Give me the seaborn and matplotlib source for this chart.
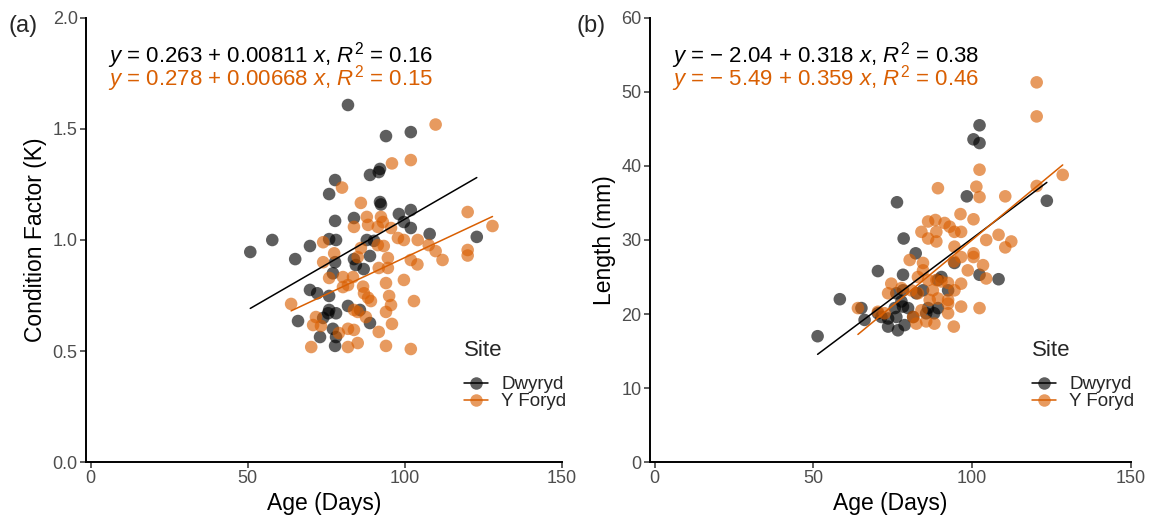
import numpy as np
import pandas as pd
import matplotlib
matplotlib.use("Agg")
import matplotlib.pyplot as plt
import seaborn as sns
from matplotlib.lines import Line2D

# ---------------- data ----------------
sites = ["Dwyryd", "Y Foryd"]

a_dw_age = [81.9, 94.0, 101.9, 92.1, 88.9, 91.7, 77.8, 75.9, 92.1, 92.4, 77.8, 83.8, 98.1, 101.9, 99.7,
            101.9, 107.9, 122.9, 50.8, 57.8, 69.8, 65.1, 75.9, 78.1, 87.9, 90.2, 83.8, 88.9, 77.8, 84.4,
            86.9, 77.1, 69.8, 72.1, 75.9, 75.9, 75.6, 78.1, 81.9, 85.7, 88.9, 74.0, 66.0, 77.1, 78.1,
            73.0, 77.8]
a_dw_k = [1.608, 1.468, 1.486, 1.32, 1.293, 1.306, 1.27, 1.207, 1.171, 1.16, 1.086, 1.099, 1.117, 1.135,
          1.081, 1.054, 1.027, 1.014, 0.946, 1.0, 0.973, 0.914, 1.004, 1.0, 1.0, 0.996, 0.914, 0.928,
          0.90, 0.887, 0.869, 0.85, 0.775, 0.76, 0.748, 0.685, 0.67, 0.67, 0.703, 0.685, 0.626, 0.649,
          0.635, 0.60, 0.563, 0.563, 0.523]

a_yf_age = [109.8, 95.9, 101.9, 80.0, 86.0, 83.8, 87.9, 92.4, 93.0, 88.3, 91.4, 95.6, 120.0, 127.9,
            104.1, 99.7, 97.8, 107.6, 109.8, 112.0, 120.0, 120.0, 74.0, 77.5, 74.0, 86.0, 91.4, 93.3,
            94.6, 85.0, 101.9, 104.0, 91.7, 94.6, 80.3, 83.5, 75.9, 99.7, 81.9, 80.3, 86.7, 87.0, 88.3,
            94.0, 95.0, 95.6, 102.9, 89.2, 83.8, 85.0, 94.0, 63.8, 71.7, 70.8, 73.3, 81.9, 87.6, 95.9,
            91.7, 83.8, 79.0, 70.2, 81.9, 85.0, 94.0, 101.9]
a_yf_k = [1.52, 1.345, 1.36, 1.236, 1.167, 1.059, 1.104, 1.104, 1.081, 1.068, 1.059, 1.054, 1.126, 1.063,
          1.0, 1.0, 1.009, 0.977, 0.95, 0.91, 0.955, 0.93, 0.99, 0.94, 0.90, 0.964, 0.977, 0.973,
          0.919, 0.923, 0.91, 0.89, 0.874, 0.874, 0.833, 0.833, 0.829, 0.82, 0.797, 0.788, 0.79, 0.76,
          0.74, 0.806, 0.748, 0.707, 0.725, 0.725, 0.685, 0.676, 0.676, 0.712, 0.653, 0.617, 0.613,
          0.60, 0.653, 0.622, 0.586, 0.595, 0.581, 0.518, 0.518, 0.536, 0.523, 0.509]

b_dw_age = [102.3, 100.4, 102.3, 98.3, 76.3, 123.5, 78.4, 82.2, 94.4, 70.3, 78.2, 102.3, 108.3, 90.3,
            89.2, 92.4, 58.3, 76.1, 78.2, 82.4, 84.5, 77.7, 78.2, 75.6, 79.8, 65.1, 66.1, 70.3, 71.4,
            73.5, 76.1, 86.1, 89.2, 85.5, 88.0, 73.5, 76.6, 78.7, 81.4, 51.3]
b_dw_len = [45.5, 43.6, 43.1, 35.9, 35.1, 35.3, 30.2, 28.2, 26.9, 25.8, 25.3, 25.3, 24.7, 25.0, 24.6,
            23.2, 22.0, 22.8, 23.2, 22.8, 23.2, 21.7, 21.0, 20.8, 20.8, 20.8, 19.2, 20.1, 19.6, 19.4,
            19.6, 20.8, 20.8, 20.1, 20.1, 18.3, 17.8, 18.5, 19.6, 17.0]

b_yf_age = [120.3, 120.3, 102.3, 128.5, 120.3, 89.2, 101.3, 102.3, 110.4, 96.3, 100.4, 86.1, 88.4, 91.3,
            92.9, 94.4, 96.5, 84.0, 86.1, 88.7, 88.7, 108.3, 112.3, 110.4, 104.4, 94.4, 100.4, 100.4,
            96.5, 103.4, 104.4, 98.6, 94.2, 80.3, 84.5, 84.5, 82.9, 86.1, 88.7, 90.3, 92.4, 87.6, 80.8,
            77.7, 96.5, 94.4, 74.5, 73.5, 82.9, 89.2, 86.6, 92.4, 92.4, 96.5, 102.3, 92.4, 64.0, 70.3,
            72.4, 82.4, 85.5, 88.1, 94.2, 84.0, 81.4]
b_yf_len = [51.3, 46.7, 39.5, 38.8, 37.3, 37.0, 37.2, 35.8, 35.9, 33.5, 32.8, 32.5, 32.7, 32.3, 31.8,
            31.1, 31.1, 31.1, 30.2, 31.1, 29.8, 30.7, 29.8, 29.0, 30.0, 29.1, 28.2, 27.7, 27.7, 26.6,
            24.8, 25.9, 27.1, 27.3, 26.9, 25.9, 25.0, 24.6, 24.6, 24.4, 24.2, 23.2, 23.2, 23.5, 24.1,
            23.2, 24.1, 22.8, 22.8, 22.1, 21.9, 21.9, 21.4, 21.0, 20.8, 20.1, 20.8, 20.3, 20.1, 18.7,
            19.0, 18.7, 18.3, 20.5, 19.6]

eq_a = [r"$y$ = 0.263 + 0.00811 $x$, $R^2$ = 0.16",
        r"$y$ = 0.278 + 0.00668 $x$, $R^2$ = 0.15"]
eq_b = [r"$y$ = − 2.04 + 0.318 $x$, $R^2$ = 0.38",
        r"$y$ = − 5.49 + 0.359 $x$, $R^2$ = 0.46"]

x_ticks = [0, 50, 100, 150]
a_yticks = [0.0, 0.5, 1.0, 1.5, 2.0]
b_yticks = [0, 10, 20, 30, 40, 50, 60]

# ---------------- style ----------------
sns.set_theme(style="white")
plt.rcParams["font.family"] = ["Liberation Sans", "DejaVu Sans"]
plt.rcParams["mathtext.fontset"] = "custom"
plt.rcParams["mathtext.rm"] = "Liberation Sans"
plt.rcParams["mathtext.it"] = "Liberation Sans:italic"
plt.rcParams["mathtext.bf"] = "Liberation Sans:bold"

colors = {"Dwyryd": "#000000", "Y Foryd": "#D95F02"}
line_colors = {"Dwyryd": "#000000", "Y Foryd": "#D95F02"}
pt_alpha = 0.63

df_a = pd.DataFrame({
    "Age": a_dw_age + a_yf_age,
    "K": a_dw_k + a_yf_k,
    "Site": ["Dwyryd"] * len(a_dw_age) + ["Y Foryd"] * len(a_yf_age),
})
df_b = pd.DataFrame({
    "Age": b_dw_age + b_yf_age,
    "Length": b_dw_len + b_yf_len,
    "Site": ["Dwyryd"] * len(b_dw_age) + ["Y Foryd"] * len(b_yf_age),
})

fig = plt.figure(figsize=(11.51, 5.21), dpi=100)
ax1 = fig.add_axes([0.0747, 0.1132, 0.4135, 0.8523])
ax2 = fig.add_axes([0.5647, 0.1132, 0.4179, 0.8523])


def draw(ax, df, ycol, ylabel, ylim, yticks, ytick_labels, eqs, eq_y):
    sns.scatterplot(data=df, x="Age", y=ycol, hue="Site", hue_order=sites,
                    palette=colors, alpha=pt_alpha, s=82, edgecolor="none",
                    legend=False, ax=ax, zorder=2)
    for site in sites:
        sub = df[df["Site"] == site]
        sns.regplot(data=sub, x="Age", y=ycol, scatter=False, ci=None,
                    color=line_colors[site], line_kws={"lw": 1.1, "zorder": 3}, ax=ax)
    ax.set_xlim(-1.5, 150)
    ax.set_ylim(*ylim)
    ax.set_xticks(x_ticks)
    ax.set_xticklabels([str(t) for t in x_ticks])
    ax.set_yticks(yticks)
    ax.set_yticklabels(ytick_labels)
    ax.set_xlabel("Age (Days)", fontsize=16.5, color="black", labelpad=3)
    ax.set_ylabel(ylabel, fontsize=16.5, color="black", labelpad=4)
    ax.tick_params(axis="both", which="both", direction="out", length=4, width=1.1,
                   color="#333333", labelsize=13, labelcolor="#4d4d4d", pad=2,
                   bottom=True, left=True)
    for side in ["top", "right"]:
        ax.spines[side].set_visible(False)
    for side in ["left", "bottom"]:
        ax.spines[side].set_color("black")
        ax.spines[side].set_linewidth(1.4)
    ax.grid(False)
    # equations
    ax.text(0.046, eq_y[0], eqs[0], transform=ax.transAxes, fontsize=16,
            color="black", ha="left", va="center")
    ax.text(0.046, eq_y[1], eqs[1], transform=ax.transAxes, fontsize=16,
            color="#D95F02", ha="left", va="center")
    # legend
    handles = [Line2D([0], [0], color=line_colors[s], lw=1.1, marker="o", markersize=9,
                      markerfacecolor=matplotlib.colors.to_rgba(colors[s], pt_alpha),
                      markeredgecolor="none") for s in sites]
    leg = ax.legend(handles, sites, title="Site", loc="upper left",
                    bbox_to_anchor=(0.778, 0.292), frameon=False, fontsize=13.5,
                    title_fontsize=16, handlelength=1.3, handletextpad=0.7,
                    labelspacing=0.0, borderaxespad=0)
    leg._legend_box.align = "left"
    leg._legend_box.sep = 11


draw(ax1, df_a, "K", "Condition Factor (K)", (0, 2.0), a_yticks,
     [f"{t:.1f}" for t in a_yticks], eq_a, (0.916, 0.864))
draw(ax2, df_b, "Length", "Length (mm)", (0, 60), b_yticks,
     [str(t) for t in b_yticks], eq_b, (0.916, 0.864))

fig.text(0.007, 0.951, "(a)", fontsize=17, ha="left", va="center")
fig.text(0.501, 0.951, "(b)", fontsize=17, ha="left", va="center")

fig.savefig("out.png", dpi=100, facecolor="white")
